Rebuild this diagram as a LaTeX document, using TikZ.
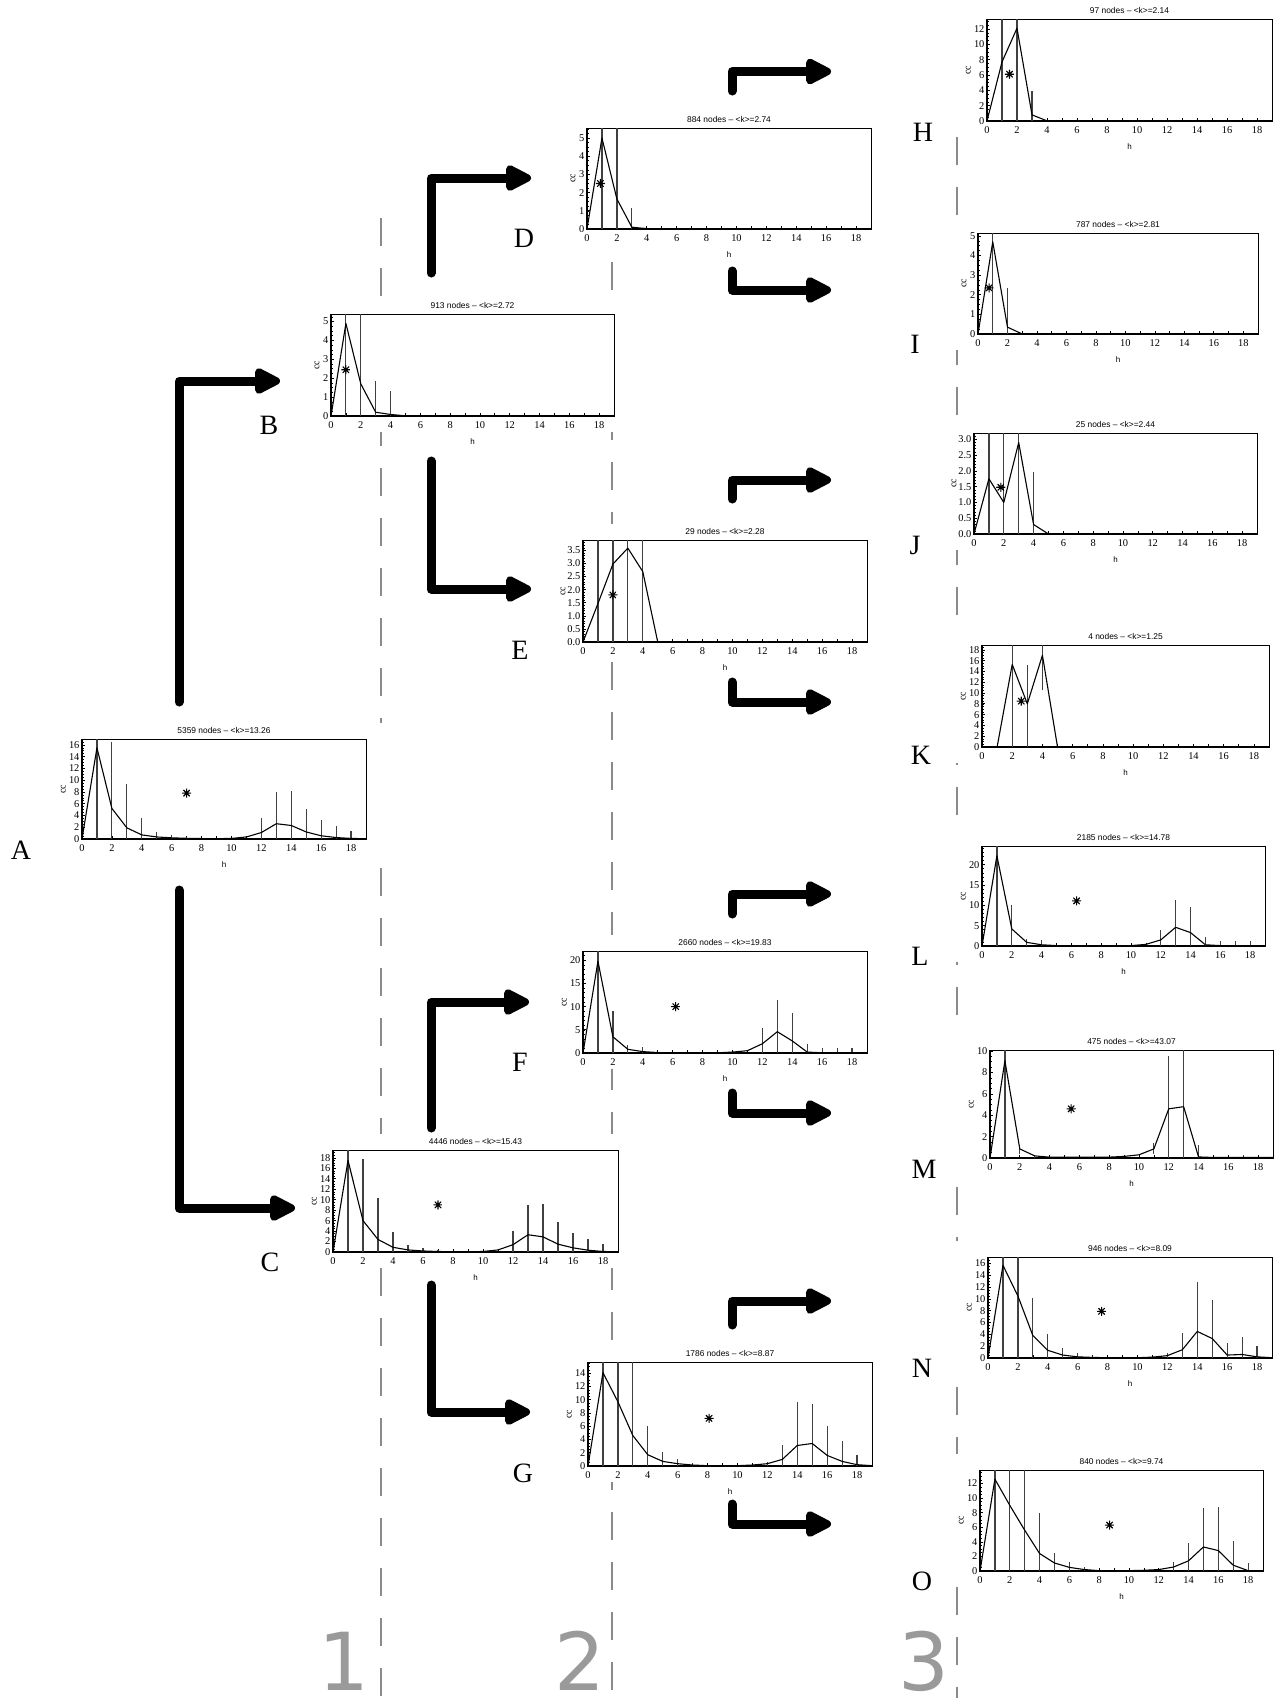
\documentclass[tikz,border=0pt]{standalone}
\usepackage{fontspec}
\setmainfont{Liberation Serif}
\newfontfamily\ttlfont{Liberation Sans}
\newfontfamily\numfont{DejaVu Sans}
\usetikzlibrary{arrows.meta}
\definecolor{dashgray}{HTML}{8A8A8A}
\definecolor{numgray}{HTML}{9A9A9A}
\definecolor{bargray}{HTML}{404040}
\tikzset{
  ttl/.style={font=\ttlfont\fontsize{4.2}{4.2}\selectfont, inner sep=0pt},
  tick/.style={font=\fontsize{5.2}{5.2}\selectfont, inner sep=0pt},
  hlab/.style={font=\ttlfont\fontsize{4}{4}\selectfont, inner sep=0pt},
  cclab/.style={font=\fontsize{5}{5}\selectfont, inner sep=0pt, rotate=90},
  letter/.style={font=\fontsize{14}{14}\selectfont, inner sep=0pt},
  colnum/.style={font=\numfont\fontsize{40}{40}\selectfont, text=numgray, inner sep=0pt, anchor=base},
  ccline/.style={line width=0.55pt, line join=round},
  ccbar/.style={line width=0.6pt, draw=bargray},
  starmk/.style={circle, inner sep=0pt, minimum size=4.6pt, path picture={
     \draw[line width=0.55pt]
       (path picture bounding box.north) -- (path picture bounding box.south)
       (path picture bounding box.east) -- (path picture bounding box.west)
       (path picture bounding box.north east) -- (path picture bounding box.south west)
       (path picture bounding box.north west) -- (path picture bounding box.south east);}},
  bigarrow/.style={line width=4.5pt, line cap=round, line join=round,
     -{Triangle[length=15pt,width=14pt,round]}},
  sepline/.style={draw=dashgray, line width=1.1pt, dash pattern=on 14pt off 11pt},
}
\def\ccoff{9.3pt}
% #1 name, #2 x0, #3 y0 (top), #4 w, #5 h, #6 ymax, #7 minor step, #8 major list v/label, #9 title
\newcommand\ccplot[9]{%
  \tikzset{pl#1/.style={shift={(#2,#3+#5)}, x={({0.5pt*#4/19},0pt)}, y={(0pt,{0.5pt*#5/#6})}}}%
  \fill[white] (#2-36,#3-16) rectangle (#2+#4+16,#3+#5+16);
  \begin{scope}[pl#1]
    \foreach \t in {0,#7,...,#6} \draw[line width=0.3pt] (0,\t) -- ++(0.9pt,0);
    \foreach \xx in {0,...,19} \draw[line width=0.35pt] (\xx,0) -- ++(0,1.4pt);
    \foreach \v/\l [count=\i] in {#8} {
      \draw[line width=0.35pt] (0,\v) -- ++(1.5pt,0);
      \node[tick, anchor=east, xshift=-1.1pt] (#1-yt\i) at (0,\v) {\l};}
    \foreach \xx [count=\i] in {0,2,...,18}
      \node[tick, anchor=north, yshift=-2.6pt] (#1-xt\i) at (\xx,0) {\xx};
    \draw[line width=0.45pt] (0,0) rectangle (19,#6);
    \draw[line width=0.8pt] (0,#6) -- (0,0) -- (19,0);
    \node[ttl, anchor=base, yshift=3pt] (#1-title) at (9.5,#6) {#9};
    \node[hlab, yshift=-12.8pt] (#1-h) at (9.5,0) {h};
    \node[xshift=-\ccoff, cclab] (#1-cc) at (0,#6/2) {cc};
  \end{scope}}
\newcommand\ccbars[1]{\foreach \bx/\blo/\bhi in {#1} \draw[ccbar] (\bx,\blo) -- (\bx,\bhi);}

\begin{document}
\begin{tikzpicture}[x=0.5pt,y=-0.5pt]
\useasboundingbox (0,0) rectangle (1274,1698);

% separator lines
\coordinate (s1a) at (381,218); \coordinate (s1b) at (381,1698);
\coordinate (s2a) at (612,112); \coordinate (s2b) at (612,1698);
\coordinate (s3a) at (957,137); \coordinate (s3b) at (957,1698);
\draw[sepline] (s1a) -- (s1b);
\draw[sepline] (s2a) -- (s2b);
\draw[sepline] (s3a) -- (s3b);

% ---------- A
\def\ccoff{9.3pt}
\ccplot{A}{82}{739}{284}{100}{17}{0.5}{0/0,2/2,4/4,6/6,8/8,10/10,12/12,14/14,16/16}{5359 nodes – <k>=13.26}
\begin{scope}[plA]
\ccbars{1/0/17,2/0/16.5,3/0/9.4,4/0/3.5,5/0/1.2,6/0/0.7,7/0/0.3,12/0/3.6,13/0/8.0,14/0/8.1,15/0/5.1,16/0/3.3,17/0/2.2,18/0/1.3}
\draw[ccline] plot coordinates {(0,0) (1,15.5) (2,5.2) (3,1.9) (4,0.7) (5,0.35) (6,0.2) (7,0.12) (8,0.08) (9,0.06) (10,0.1) (11,0.35) (12,1.1) (13,2.6) (14,2.3) (15,1.2) (16,0.55) (17,0.25) (18,0.1) (19,0.05)};
\node[starmk] (A-star) at (7,7.8) {};
\end{scope}

% ---------- B
\def\ccoff{7pt}
\ccplot{B}{331}{314}{283}{102}{5.4}{0.25}{0/0,1/1,2/2,3/3,4/4,5/5}{913 nodes – <k>=2.72}
\begin{scope}[plB]
\ccbars{1/0/5.4,2/0/5.4,3/0/1.85,4/0/1.3}
\draw[ccline] plot coordinates {(0,0) (1,4.9) (2,1.7) (3,0.2) (4,0.08) (5,0.01) (19,0)};
\node[starmk] (B-star) at (1,2.45) {};
\end{scope}

% ---------- C
\def\ccoff{9.3pt}
\ccplot{C}{333}{1150}{285}{102}{19.5}{0.5}{0/0,2/2,4/4,6/6,8/8,10/10,12/12,14/14,16/16,18/18}{4446 nodes – <k>=15.43}
\begin{scope}[plC]
\ccbars{1/0/19.5,2/0/17.7,3/0/10.4,4/0/3.9,5/0/1.4,6/0/0.8,7/0/0.3,12/0/4.1,13/0/9.0,14/0/9.1,15/0/5.8,16/0/3.7,17/0/2.5,18/0/1.5}
\draw[ccline] plot coordinates {(0,0) (1,17.5) (2,6.0) (3,2.4) (4,0.9) (5,0.4) (6,0.2) (7,0.1) (8,0.05) (9,0.05) (10,0.1) (11,0.4) (12,1.4) (13,3.3) (14,2.9) (15,1.5) (16,0.8) (17,0.35) (18,0.1) (19,0.05)};
\node[starmk] (C-star) at (7,9.0) {};
\end{scope}

% ---------- D
\def\ccoff{7pt}
\ccplot{D}{587}{128}{284}{101}{5.55}{0.25}{0/0,1/1,2/2,3/3,4/4,5/5}{884 nodes – <k>=2.74}
\begin{scope}[plD]
\ccbars{1/0/5.55,2/0/5.55,3/0/1.15}
\draw[ccline] plot coordinates {(0,0) (1,5.0) (2,1.65) (3,0.1) (4,0.02) (5,0) (19,0)};
\node[starmk] (D-star) at (0.9,2.5) {};
\end{scope}

% ---------- E
\def\ccoff{10pt}
\ccplot{E}{583}{540}{284}{102}{3.9}{0.1}{0/0.0,0.5/0.5,1/1.0,1.5/1.5,2/2.0,2.5/2.5,3/3.0,3.5/3.5}{29 nodes – <k>=2.28}
\begin{scope}[plE]
\ccbars{1/0/3.9,2/0/3.9,3/0/3.9,4/0/3.9}
\draw[ccline] plot coordinates {(0,0) (1,1.47) (2,2.98) (3,3.59) (4,2.69) (5,0) (19,0)};
\node[starmk] (E-star) at (2,1.8) {};
\end{scope}

% ---------- F
\def\ccoff{9.3pt}
\ccplot{F}{583}{951}{284}{102}{22}{1}{0/0,5/5,10/10,15/15,20/20}{2660 nodes – <k>=19.83}
\begin{scope}[plF]
\ccbars{1/0/22,2/0/9.1,3/0/1.8,4/0/1.4,12/0/5.3,13/0/11.5,14/0/8.6,15/0/2.0,16/0/1.0,17/0/1.1,18/0/1.1}
\draw[ccline] plot coordinates {(0,0) (1,19.8) (2,3.5) (3,0.8) (4,0.3) (5,0.1) (6,0.05) (7,0.05) (8,0.05) (9,0.05) (10,0.2) (11,0.5) (12,2.0) (13,4.6) (14,2.6) (15,0.2) (16,0.05) (17,0.05) (18,0.05) (19,0.02)};
\node[starmk] (F-star) at (6.2,10.0) {};
\end{scope}

% ---------- G
\def\ccoff{9.3pt}
\ccplot{G}{588}{1362}{284}{104}{15.7}{0.5}{0/0,2/2,4/4,6/6,8/8,10/10,12/12,14/14}{1786 nodes – <k>=8.87}
\begin{scope}[plG]
\ccbars{1/0/15.7,2/0/15.7,3/0/15.7,4/0/6.1,5/0/2.1,6/0/1.1,7/0/0.5,12/0/0.6,13/0/3.1,14/0/9.6,15/0/9.3,16/0/6.1,17/0/3.8,18/0/1.7}
\draw[ccline] plot coordinates {(0,0) (1,14.1) (2,9.7) (3,4.6) (4,1.7) (5,0.7) (6,0.35) (7,0.15) (8,0.05) (9,0.05) (10,0.05) (11,0.15) (12,0.35) (13,1.0) (14,3.1) (15,3.4) (16,1.6) (17,0.7) (18,0.2) (19,0.05)};
\node[starmk] (G-star) at (8.1,7.2) {};
\end{scope}

% ---------- H
\def\ccoff{9.3pt}
\ccplot{H}{987}{19}{285}{102}{13.3}{0.5}{0/0,2/2,4/4,6/6,8/8,10/10,12/12}{97 nodes – <k>=2.14}
\begin{scope}[plH]
\ccbars{1/0/13.3,2/0/13.3,3/0/3.9}
\draw[ccline] plot coordinates {(0,0) (1,7.7) (2,12.1) (3,0.8) (4,0.02) (19,0)};
\node[starmk] (H-star) at (1.5,6.1) {};
\end{scope}

% ---------- I
\def\ccoff{7pt}
\ccplot{I}{978}{233}{280}{101}{5.15}{0.25}{0/0,1/1,2/2,3/3,4/4,5/5}{787 nodes – <k>=2.81}
\begin{scope}[plI]
\ccbars{1/0/5.15,2/0/2.35}
\draw[ccline] plot coordinates {(0,0) (1,4.7) (2,0.35) (3,0) (19,0)};
\node[starmk] (I-star) at (0.75,2.35) {};
\end{scope}

% ---------- J
\def\ccoff{10pt}
\ccplot{J}{974}{433}{283}{101}{3.2}{0.1}{0/0.0,0.5/0.5,1/1.0,1.5/1.5,2/2.0,2.5/2.5,3/3.0}{25 nodes – <k>=2.44}
\begin{scope}[plJ]
\ccbars{1/0/3.2,2/0/3.2,3/0/3.2,4/0/1.95}
\draw[ccline] plot coordinates {(0,0) (1,1.75) (2,1.0) (3,2.9) (4,0.3) (5,0) (19,0)};
\node[starmk] (J-star) at (1.8,1.48) {};
\end{scope}

% ---------- K
\def\ccoff{9.3pt}
\ccplot{K}{982}{645}{287}{102}{18.9}{0.5}{0/0,2/2,4/4,6/6,8/8,10/10,12/12,14/14,16/16,18/18}{4 nodes – <k>=1.25}
\begin{scope}[plK]
\ccbars{2/0/18.9,3/0/15.2,4/10.5/18.9}
\draw[ccline] plot coordinates {(0,0) (1,0) (2,15.3) (3,8.0) (4,17.0) (5,0) (19,0)};
\node[starmk] (K-star) at (2.6,8.5) {};
\end{scope}

% ---------- L
\def\ccoff{9.3pt}
\ccplot{L}{982}{846}{283}{100}{24.6}{1}{0/0,5/5,10/10,15/15,20/20}{2185 nodes – <k>=14.78}
\begin{scope}[plL]
\ccbars{1/0/24.6,2/0/10.2,3/0/1.8,4/0/1.5,12/0/4.0,13/0/11.3,14/0/9.6,15/0/2.1,16/0/1.2,17/0/1.2,18/0/1.2}
\draw[ccline] plot coordinates {(0,0) (1,22.2) (2,4.2) (3,0.9) (4,0.3) (5,0.1) (6,0.05) (7,0.05) (8,0.05) (9,0.05) (10,0.1) (11,0.4) (12,1.5) (13,4.6) (14,3.3) (15,0.3) (16,0.1) (17,0.05) (18,0.05) (19,0.02)};
\node[starmk] (L-star) at (6.35,11.1) {};
\end{scope}

% ---------- M
\def\ccoff{9.3pt}
\ccplot{M}{990}{1050}{283}{108}{10.1}{0.5}{0/0,2/2,4/4,6/6,8/8,10/10}{475 nodes – <k>=43.07}
\begin{scope}[plM]
\ccbars{1/0/10.1,2/0.35/1.0,3/0/0.3,11/0.4/1.45,12/0/9.5,13/0/10.1,14/0/1.2,17/0/0.3}
\draw[ccline] plot coordinates {(0,0) (1,9.1) (2,0.85) (3,0.2) (4,0.08) (5,0.08) (6,0.08) (7,0.08) (8,0.08) (9,0.15) (10,0.3) (11,0.85) (12,4.6) (13,4.8) (14,0.1) (15,0.05) (16,0.05) (17,0.05) (18,0.05) (19,0.05)};
\node[starmk] (M-star) at (5.45,4.6) {};
\end{scope}

% ---------- N
\def\ccoff{9.3pt}
\ccplot{N}{988}{1257}{284}{101}{17.1}{0.5}{0/0,2/2,4/4,6/6,8/8,10/10,12/12,14/14,16/16}{946 nodes – <k>=8.09}
\begin{scope}[plN]
\ccbars{1/0/17.1,2/0/17.1,3/0/10.1,4/0/4.0,5/0/1.7,6/0/0.8,7/0/0.4,12/0/0.9,13/0/4.2,14/0/12.9,15/0/9.8,16/0/2.5,17/0/3.6,18/0/2.1}
\draw[ccline] plot coordinates {(0,0) (1,15.7) (2,10.5) (3,3.8) (4,1.3) (5,0.5) (6,0.2) (7,0.1) (8,0.05) (9,0.05) (10,0.05) (11,0.15) (12,0.4) (13,1.4) (14,4.5) (15,3.3) (16,0.5) (17,0.6) (18,0.2) (19,0.05)};
\node[starmk] (N-star) at (7.6,7.9) {};
\end{scope}

% ---------- O
\def\ccoff{9.3pt}
\ccplot{O}{980}{1470}{283}{101}{13.85}{0.5}{0/0,2/2,4/4,6/6,8/8,10/10,12/12}{840 nodes – <k>=9.74}
\begin{scope}[plO]
\ccbars{1/0/13.85,2/0/13.85,3/0/13.85,4/0/7.9,5/0/2.5,6/0/1.3,7/0/0.5,13/0/1.2,14/0/3.8,15/0/8.6,16/0/8.8,17/0/4.1,18/0/1.1}
\draw[ccline] plot coordinates {(0,0) (1,12.6) (2,9.0) (3,5.6) (4,2.4) (5,1.1) (6,0.5) (7,0.2) (8,0.05) (9,0.05) (10,0.05) (11,0.1) (12,0.2) (13,0.55) (14,1.4) (15,3.3) (16,2.8) (17,0.8) (18,0.05) (19,0.05)};
\node[starmk] (O-star) at (8.7,6.3) {};
\end{scope}

% ---------- letters
\node[letter] (A) at (21,850) {A};
\node[letter] (B) at (269,425) {B};
\node[letter] (C) at (270,1262) {C};
\node[letter] (D) at (524,238) {D};
\node[letter] (E) at (520,650) {E};
\node[letter] (F) at (520,1062) {F};
\node[letter] (G) at (523,1473) {G};
\node[letter] (H) at (923,132) {H};
\node[letter] (I) at (915,344) {I};
\node[letter] (J) at (915,545) {J};
\node[letter] (K) at (921,755) {K};
\node[letter] (L) at (920,956) {L};
\node[letter] (M) at (924,1169) {M};
\node[letter] (N) at (922,1368) {N};
\node[letter] (O) at (922,1581) {O};

% ---------- column numbers
\node[colnum] (n1) at (344,1690) {1};
\node[colnum] (n2) at (580,1690) {2};
\node[colnum] (n3) at (924,1690) {3};

% ---------- arrows
\coordinate (aB0) at (179,702);  \coordinate (aB1) at (280,381);
\coordinate (aC0) at (179,890);  \coordinate (aC1) at (295,1208);
\coordinate (aD0) at (431,273);  \coordinate (aD1) at (531,178);
\coordinate (aE0) at (431,461);  \coordinate (aE1) at (531,589);
\coordinate (aF0) at (431,1128); \coordinate (aF1) at (529,1002);
\coordinate (aG0) at (431,1285); \coordinate (aG1) at (530,1412);
\coordinate (aH0) at (732,91);   \coordinate (aH1) at (831,71.5);
\coordinate (aI0) at (732,271);  \coordinate (aI1) at (831,290);
\coordinate (aJ0) at (732,499);  \coordinate (aJ1) at (831,480);
\coordinate (aK0) at (732,682);  \coordinate (aK1) at (831,702);
\coordinate (aL0) at (732,914);  \coordinate (aL1) at (831,894);
\coordinate (aM0) at (732,1093); \coordinate (aM1) at (831,1113);
\coordinate (aN0) at (732,1325); \coordinate (aN1) at (831,1301);
\coordinate (aO0) at (732,1504); \coordinate (aO1) at (831,1524);
\foreach \a in {B,C,D,E,F,G,H,I,J,K,L,M,N,O}
  \draw[bigarrow] (a\a0) |- (a\a1);
\end{tikzpicture}
\end{document}
